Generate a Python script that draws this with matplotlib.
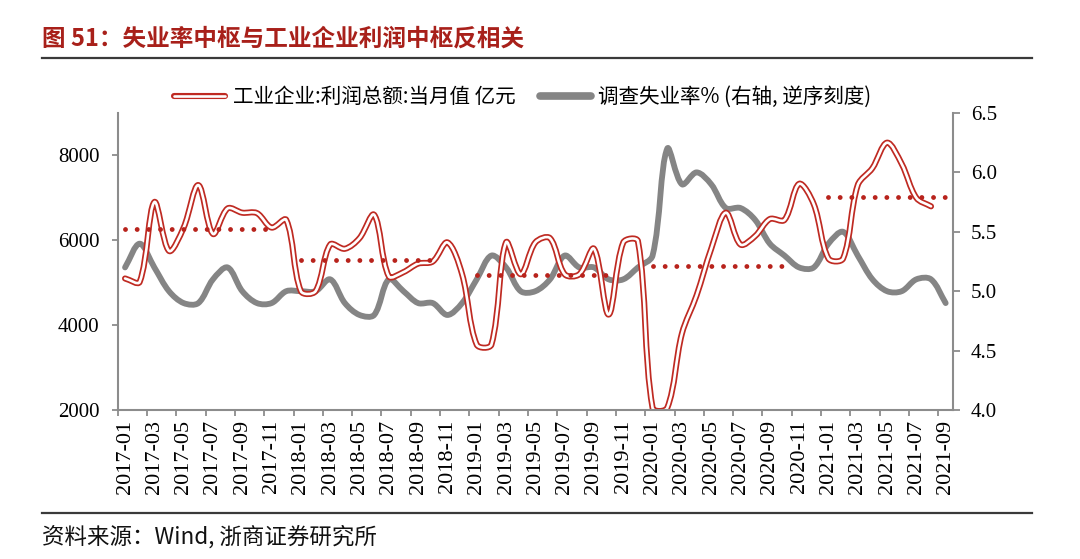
import numpy as np
import matplotlib
matplotlib.use('Agg')
import matplotlib.pyplot as plt
from matplotlib.path import Path
from matplotlib.patches import PathPatch
from matplotlib.lines import Line2D
from matplotlib.legend_handler import HandlerTuple

plt.rcParams['font.family'] = ['Noto Sans CJK SC', 'DejaVu Sans']

# months 2017-01 .. 2021-09
months = [f'{y}-{m:02d}' for y in range(2017, 2022) for m in range(1, 13)][:57]

# 工业企业:利润总额:当月值 (亿元), 2017-01 .. 2021-08
profit = [5100, 5020, 6900, 5750, 6300, 7300, 6150, 6750, 6650, 6640, 6300, 6480,
          4800, 4800, 5900, 5800, 6050, 6600, 5150, 5250, 5450, 5500, 5950, 5200,
          3540, 3540, 5950, 5200, 5950, 6050, 5200, 5200, 5800, 4250, 5950, 5980,
          2050, 2050, 3800, 4700, 5800, 6650, 5900, 6100, 6500, 6480, 7330, 6850,
          5570, 5570, 7300, 7700, 8300, 7800, 7000, 6800]

# 调查失业率 %, 2017-01 .. 2021-09
unemp = [5.2, 5.4, 5.2, 5.0, 4.9, 4.9, 5.1, 5.2, 5.0, 4.9, 4.9, 5.0,
         5.0, 5.0, 5.1, 4.9, 4.8, 4.8, 5.1, 5.0, 4.9, 4.9, 4.8, 4.9,
         5.1, 5.3, 5.2, 5.0, 5.0, 5.1, 5.3, 5.2, 5.2, 5.1, 5.1, 5.2,
         5.3, 6.2, 5.9, 6.0, 5.9, 5.7, 5.7, 5.6, 5.4, 5.3, 5.2, 5.2,
         5.4, 5.5, 5.3, 5.1, 5.0, 5.0, 5.1, 5.1, 4.9]

# yearly profit centre (dotted), start/end in month index
avg_value = [6275, 5530, 5176, 5388, 7020]
avg_start = [0, 12, 24, 36, 48]
avg_end = [9.7, 21.5, 33.6, 45.5, 56]

RED = '#BF2A22'
DOT = '#B8231C'
GRAY = '#858585'
AXC = '#8C8C8C'
SERIF = 'Liberation Serif'


def smooth_path(a, xs, ys):
    # Excel-like smoothed line: bezier tangents weighted by on-screen segment lengths
    P = np.column_stack([xs, ys]).astype(float)
    S = a.transData.transform(P)
    n = len(P)
    d = np.hypot(*np.diff(S, axis=0).T)
    verts = [tuple(P[0])]
    codes = [Path.MOVETO]
    for k in range(n - 1):
        # control leaving P[k]
        if k == 0:
            c1 = P[0] + (P[1] - P[0]) / 3
        else:
            c1 = P[k] + (P[k + 1] - P[k - 1]) * d[k] / (d[k - 1] + d[k]) / 3
        # control entering P[k+1]
        if k + 1 == n - 1:
            c2 = P[k + 1] - (P[k + 1] - P[k]) / 3
        else:
            c2 = P[k + 1] - (P[k + 2] - P[k]) * d[k] / (d[k] + d[k + 1]) / 3
        verts += [tuple(c1), tuple(c2), tuple(P[k + 1])]
        codes += [Path.CURVE4] * 3
    return Path(verts, codes)


fig = plt.figure(figsize=(10.8, 5.59), dpi=100)
ax = fig.add_axes([0.109, 0.2665, 0.7734, 0.5314])
ax2 = ax.twinx()
ax.set_zorder(ax2.get_zorder() + 1)
ax.patch.set_visible(False)

x = np.arange(len(months))
ax.set_xlim(-0.5, len(months) - 0.5)
ax.set_ylim(2000, 9000)
ax2.set_ylim(4.0, 6.5)

# gray unemployment line (right axis, drawn below)
p = smooth_path(ax2, x, unemp)
ax2.add_patch(PathPatch(p, fill=False, edgecolor=GRAY, lw=4.2,
                        capstyle='round', joinstyle='round'))

# red double line
xp = x[:len(profit)]
p = smooth_path(ax, xp, profit)
ax.add_patch(PathPatch(p, fill=False, edgecolor=RED, lw=4.4,
                       capstyle='round', joinstyle='round'))
ax.add_patch(PathPatch(p, fill=False, edgecolor='white', lw=1.9,
                       capstyle='round', joinstyle='round'))

# yearly centres
for v, s, e in zip(avg_value, avg_start, avg_end):
    ax.plot([s, e], [v, v], color=DOT, lw=3.5, dashes=(0.001, 2.4),
            dash_capstyle='round', solid_capstyle='round')

ax.set_xlim(-0.5, len(months) - 0.5)
ax.set_ylim(2000, 9000)
ax2.set_ylim(4.0, 6.5)

ax.set_yticks([2000, 4000, 6000, 8000])
ax.set_yticklabels(['2000', '4000', '6000', '8000'], family=SERIF, fontsize=15)
rt = [4.0, 4.5, 5.0, 5.5, 6.0, 6.5]
ax2.set_yticks(rt)
ax2.set_yticklabels([f'{v:.1f}' for v in rt], family=SERIF, fontsize=15)

ax.set_xticks(x[::2])
ax.set_xticklabels(months[::2], rotation=90, family=SERIF, fontsize=16)
ax.set_xticks(x[::2] - 0.5, minor=True)
ax.tick_params(axis='x', which='major', length=0, pad=7)
ax.tick_params(axis='x', which='minor', length=4, width=1.3, color=AXC, direction='out')
ax.tick_params(axis='y', length=4, width=1.3, color=AXC, pad=9)
ax2.tick_params(axis='y', length=5, width=1.3, color=AXC, pad=8)

for a in (ax, ax2):
    a.spines['top'].set_visible(False)
    for s in ('left', 'right', 'bottom'):
        a.spines[s].set_color(AXC)
        a.spines[s].set_linewidth(1.5)
ax.spines['right'].set_visible(False)
ax2.spines['left'].set_visible(False)
ax2.spines['bottom'].set_visible(False)

# legend
h1 = (Line2D([], [], color=RED, lw=4.4, solid_capstyle='round'),
      Line2D([], [], color='white', lw=1.9, solid_capstyle='round'))
h2 = Line2D([], [], color=GRAY, lw=5.5, solid_capstyle='round')
fig.legend([h1, h2], ['工业企业:利润总额:当月值 亿元', '调查失业率% (右轴, 逆序刻度)'],
           handler_map={tuple: HandlerTuple(ndivide=1, pad=0)},
           loc='center', bbox_to_anchor=(0.484, 0.826), ncol=2, frameon=False,
           fontsize=14.8, handlelength=2.5, handletextpad=0.35, columnspacing=1.2)

# title, rules, source
fig.text(0.039, 1 - 38 / 559, '图 51：失业率中枢与工业企业利润中枢反相关',
         color='#A8201A', fontsize=17, fontweight='bold', va='center', ha='left')
fig.add_artist(Line2D([42 / 1080, 1032 / 1080], [1 - 58 / 559, 1 - 58 / 559],
                      color='#3A3A3A', lw=1.6))
fig.add_artist(Line2D([42 / 1080, 1032 / 1080], [1 - 513 / 559, 1 - 513 / 559],
                      color='#3A3A3A', lw=1.6))
fig.text(0.039, 1 - 537 / 559, '资料来源：Wind, 浙商证券研究所', fontsize=16.2,
         va='center', ha='left', color='#111111')

fig.savefig('out.png', dpi=100)
